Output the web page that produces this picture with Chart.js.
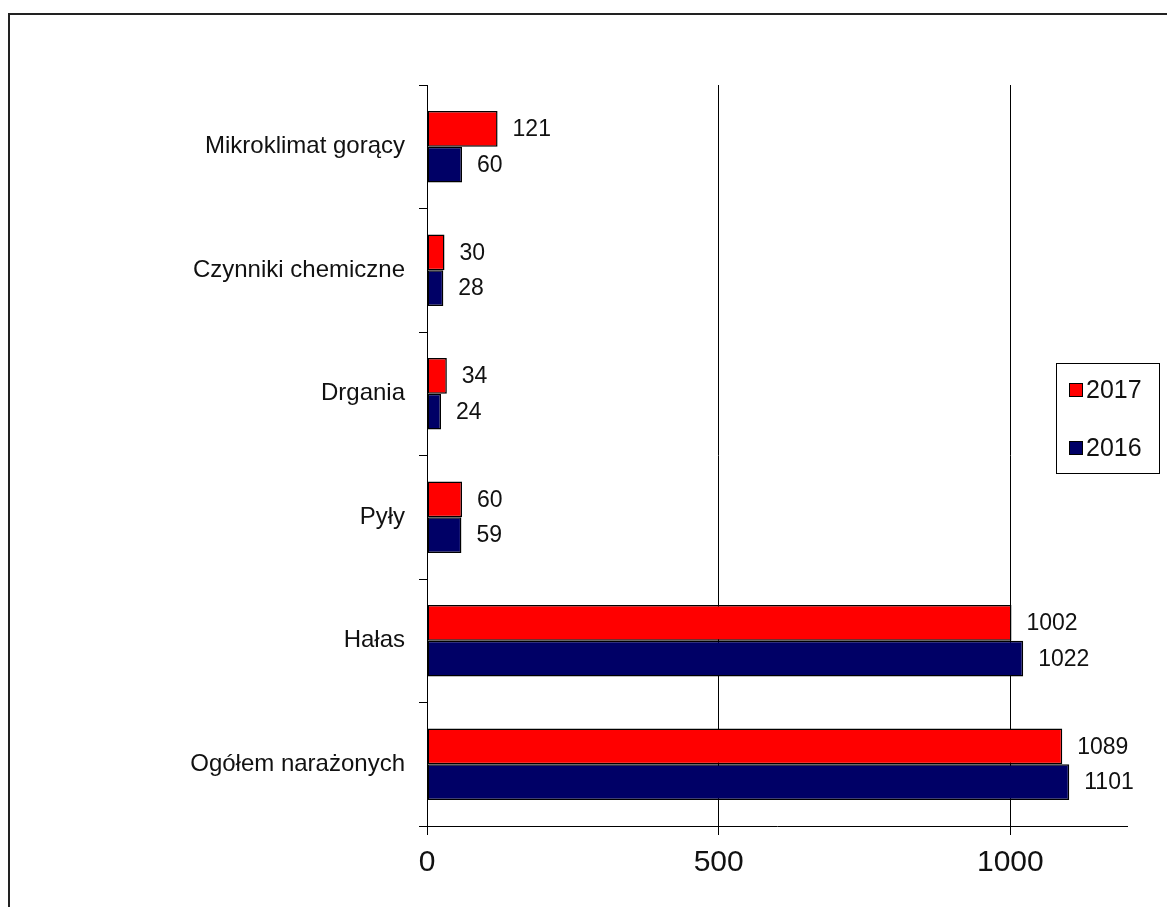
<!DOCTYPE html>
<html>
<head>
<meta charset="utf-8">
<script src="https://cdn.jsdelivr.net/npm/chart.js@4"></script>
<style>
  html, body { margin: 0; padding: 0; background: #fff; }
  #wrap { width: 1167px; height: 907px; position: relative; }
</style>
</head>
<body>
<div id="wrap"><canvas id="c" width="1167" height="907"></canvas></div>
<script>
const categories = ["Mikroklimat gorący", "Czynniki chemiczne", "Drgania", "Pyły", "Hałas", "Ogółem narażonych"];
const seriesNames = ["2017", "2016"];
const values2017 = [121, 30, 34, 60, 1002, 1089];
const values2016 = [60, 28, 24, 59, 1022, 1101];
const xTicks = [0, 500, 1000];
const colors = ["#FF0000", "#000066"];
const FONT = "'Liberation Sans', Arial, sans-serif";

const framePlugin = {
  id: 'frame',
  beforeDraw(chart) {
    const ctx = chart.ctx;
    ctx.save();
    ctx.fillStyle = '#fff';
    ctx.fillRect(0, 0, chart.width, chart.height);
    ctx.strokeStyle = '#222';
    ctx.lineWidth = 2;
    ctx.strokeRect(9, 14, chart.width + 20, chart.height + 20);
    ctx.restore();
  }
};

const labelPlugin = {
  id: 'valueLabels',
  afterDatasetsDraw(chart) {
    const ctx = chart.ctx;
    ctx.save();
    ctx.font = "23px " + FONT;
    ctx.fillStyle = '#111';
    ctx.textAlign = 'left';
    ctx.textBaseline = 'middle';
    chart.data.datasets.forEach((ds, di) => {
      const meta = chart.getDatasetMeta(di);
      meta.data.forEach((el, i) => {
        ctx.fillText(String(ds.data[i]), el.x + 15, el.y + 1);
      });
    });
    ctx.restore();
  }
};

const legendPlugin = {
  id: 'boxLegend',
  afterDraw(chart) {
    const ctx = chart.ctx;
    ctx.save();
    ctx.strokeStyle = '#000';
    ctx.lineWidth = 1;
    ctx.strokeRect(1056.5, 363.5, 103, 110);
    ctx.font = "25px " + FONT;
    ctx.textAlign = 'left';
    ctx.textBaseline = 'middle';
    chart.data.datasets.forEach((ds, i) => {
      const y = 383 + i * 58;
      ctx.fillStyle = ds.backgroundColor;
      ctx.fillRect(1069, y, 14, 14);
      ctx.strokeStyle = '#000';
      ctx.strokeRect(1069.5, y + 0.5, 13, 13);
      ctx.fillStyle = '#111';
      ctx.fillText(ds.label, 1086, y + 8);
    });
    ctx.restore();
  }
};

new Chart(document.getElementById('c'), {
  type: 'bar',
  data: {
    labels: categories,
    datasets: [
      { label: seriesNames[0], data: values2017, backgroundColor: colors[0], borderColor: '#000', borderWidth: 1.5, borderSkipped: false },
      { label: seriesNames[1], data: values2016, backgroundColor: colors[1], borderColor: '#000', borderWidth: 1.5, borderSkipped: false }
    ]
  },
  options: {
    indexAxis: 'y',
    responsive: false,
    animation: false,
    devicePixelRatio: 1,
    layout: { padding: { top: 85, right: 40, left: 0, bottom: 0 } },
    datasets: { bar: { categoryPercentage: 0.577, barPercentage: 1.0 } },
    plugins: { legend: { display: false }, tooltip: { enabled: false } },
    scales: {
      x: {
        min: 0, max: 1200,
        ticks: { stepSize: 500, color: '#111', font: { family: FONT, size: 30 }, padding: 10,
                 callback: (v) => String(v) },
        afterBuildTicks(scale) { scale.ticks = xTicks.map(v => ({ value: v })); },
        afterFit(scale) { scale.height = 81; },
        grid: { color: '#000', lineWidth: 1, tickLength: 9, drawOnChartArea: true },
        border: { display: true, color: '#000', width: 1 }
      },
      y: {
        ticks: { color: '#111', font: { family: FONT, size: 24 }, padding: 14 },
        afterFit(scale) { scale.width = 427; },
        grid: { offset: true, drawOnChartArea: false, color: '#000', tickLength: 8 },
        border: { display: true, color: '#000', width: 1 }
      }
    }
  },
  plugins: [framePlugin, labelPlugin, legendPlugin]
});
</script>
</body>
</html>
